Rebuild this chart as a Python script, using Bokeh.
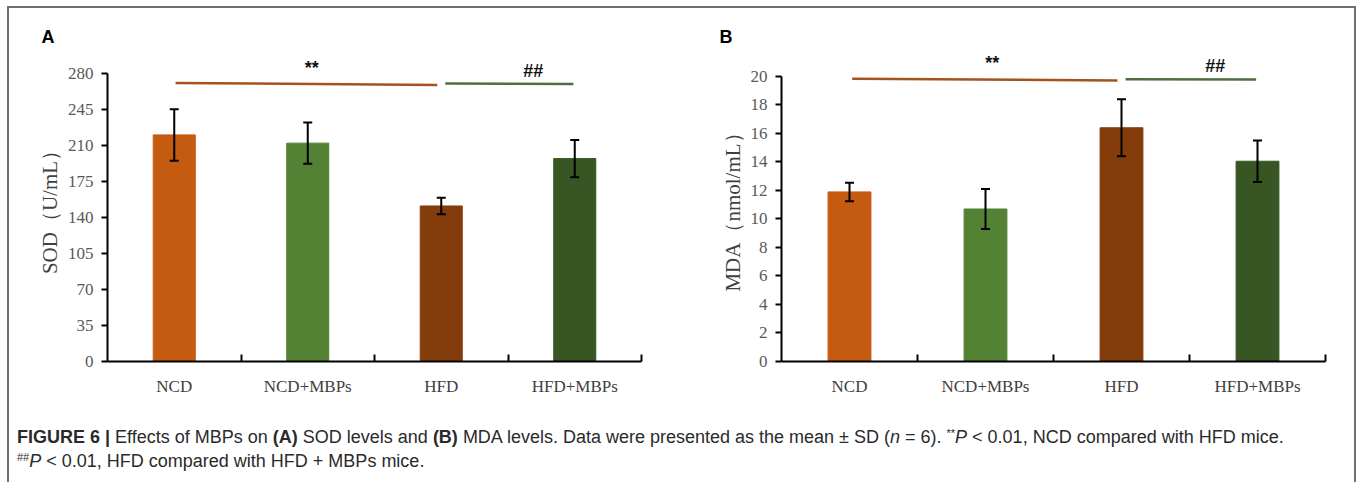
from bokeh.plotting import figure
from bokeh.models import (Range1d, FixedTicker, Whisker, TeeHead, ColumnDataSource,
                          Label, Div)
from bokeh.layouts import column, row
from bokeh.embed import file_html
from bokeh.resources import INLINE

# ---- data -------------------------------------------------------------
categories = ["NCD", "NCD+MBPs", "HFD", "HFD+MBPs"]
bar_colors = ["#C55A11", "#548235", "#843C0C", "#375623"]

sod_mean = [220, 212, 151, 197]
sod_sd = [25, 20, 8, 18]

mda_mean = [11.9, 10.7, 16.4, 14.05]
mda_sd = [0.65, 1.4, 2.0, 1.45]

# significance brackets: (x start, x end, y start, y end, mark, mark x, mark y)
sod_brackets = [
    (0.01, 1.97, 270.5, 268.5, "**", 1.03, 285.0),
    (2.03, 2.99, 270.0, 269.5, "##", 2.69, 282.5),
]
mda_brackets = [
    (0.02, 1.97, 19.84, 19.72, "**", 1.05, 20.95),
    (2.03, 2.99, 19.80, 19.78, "##", 2.69, 20.7),
]
bracket_colors = ["#A3531E", "#4F6E3F"]

SERIF = "Liberation Serif"


def panel(letter, means, sds, y_top, y_max, y_step, y_label, brackets,
          width, border_left, border_right, border_bottom, letter_offset):
    n = len(categories)
    centers = list(range(n))
    p = figure(width=width, height=402, x_range=Range1d(-0.5, n - 0.5),
               y_range=Range1d(0, y_top), output_backend="svg",
               toolbar_location=None, min_border_left=border_left,
               min_border_right=border_right, min_border_top=44,
               min_border_bottom=border_bottom, title=letter)
    p.outline_line_color = None
    p.grid.visible = False
    p.background_fill_color = "white"
    p.border_fill_color = "white"

    # panel letter drawn as the title, pulled left past the axis
    p.title.align = "left"
    p.title.offset = letter_offset
    p.title.standoff = 11
    p.title.text_font = "Liberation Sans"
    p.title.text_font_style = "bold"
    p.title.text_font_size = "18px"
    p.title.text_color = "black"

    src = ColumnDataSource(dict(
        x=centers, top=means, color=bar_colors,
        upper=[m + s for m, s in zip(means, sds)],
        lower=[m - s for m, s in zip(means, sds)],
    ))
    p.vbar(x="x", top="top", width=0.315, color="color", source=src)

    wh = Whisker(source=src, base="x", upper="upper", lower="lower",
                 line_color="black", line_width=2, level="annotation",
                 upper_head=TeeHead(size=9, line_width=2, line_color="black"),
                 lower_head=TeeHead(size=9, line_width=2, line_color="black"))
    p.add_layout(wh)

    for (x0, x1, y0, y1, mark, mx, my), col in zip(brackets, bracket_colors):
        p.line([x0, x1], [y0, y1], line_color=col, line_width=2.5)
        p.add_layout(Label(x=mx, y=my, text=mark, text_align="center",
                           text_baseline="middle", text_font_style="bold",
                           text_font="Liberation Sans", text_font_size="18px",
                           text_color="#111111"))

    # category axis: labels at the bar centres, ticks on the group borders
    xa = p.xaxis[0]
    xa.ticker = FixedTicker(ticks=centers, minor_ticks=[c + 0.5 for c in centers])
    xa.major_label_overrides = {c: name for c, name in zip(centers, categories)}
    xa.major_tick_in = 0
    xa.major_tick_out = 0
    xa.minor_tick_in = 7
    xa.minor_tick_out = 0
    xa.minor_tick_line_width = 2
    xa.minor_tick_line_color = "black"
    xa.axis_line_width = 2
    xa.axis_line_color = "black"
    xa.major_label_standoff = 15
    xa.major_label_text_font = SERIF
    xa.major_label_text_font_size = "17px"
    xa.major_label_text_color = "#404040"

    ya = p.yaxis[0]
    ya.bounds = (0, y_max)
    ya.ticker = FixedTicker(ticks=[y_step * i for i in range(int(round(y_max / y_step)) + 1)],
                            minor_ticks=[])
    ya.major_tick_out = 6
    ya.major_tick_in = 0
    ya.major_tick_line_width = 2
    ya.axis_line_width = 2
    ya.axis_line_color = "black"
    ya.major_label_standoff = 8
    ya.major_label_text_font = SERIF
    ya.major_label_text_font_size = "17px"
    ya.major_label_text_color = "#595959"
    ya.axis_label = y_label
    ya.axis_label_text_font = SERIF
    ya.axis_label_text_font_size = "21px"
    ya.axis_label_text_font_style = "normal"
    ya.axis_label_text_color = "#404040"
    ya.axis_label_standoff = 3
    return p


pA = panel("A", sod_mean, sod_sd, 300, 280, 35, "SOD（U/mL）", sod_brackets,
           width=671, border_left=98, border_right=39, border_bottom=48,
           letter_offset=-66)
pB = panel("B", mda_mean, mda_sd, 21.68, 20, 2, "MDA（nmol/mL）", mda_brackets,
           width=674, border_left=101, border_right=29, border_bottom=49,
           letter_offset=-62)

SUP = 'style="font-size:11px;position:relative;top:-6px;line-height:0;"'
caption_html = (
    '<div style="font-family:\'Liberation Sans\',Arial,sans-serif;font-size:18px;'
    'line-height:24px;color:#2a2a2a;padding:15px 0 0 8px;white-space:nowrap;">'
    '<b>FIGURE 6 |</b> Effects of MBPs on <b>(A)</b> SOD levels and <b>(B)</b> MDA levels. '
    'Data were presented as the mean ± SD (<i>n</i> = 6). '
    f'<span {SUP}>**</span><i>P</i> &lt; 0.01, NCD compared with HFD mice.<br>'
    f'<span {SUP}>##</span><i>P</i> &lt; 0.01, HFD compared with HFD + MBPs mice.'
    '</div>'
)
caption = Div(text=caption_html, width=1345, height=72, margin=(0, 0, 0, 0))

layout = column(
    row(pA, pB),
    caption,
    styles={"border-top": "2px solid #707070", "border-left": "2px solid #707070",
            "border-right": "2px solid #707070", "margin-left": "7px",
            "margin-top": "6px", "background": "white"},
)

with open("out.html", "w") as f:
    f.write(file_html(layout, INLINE, title="Figure 6"))
